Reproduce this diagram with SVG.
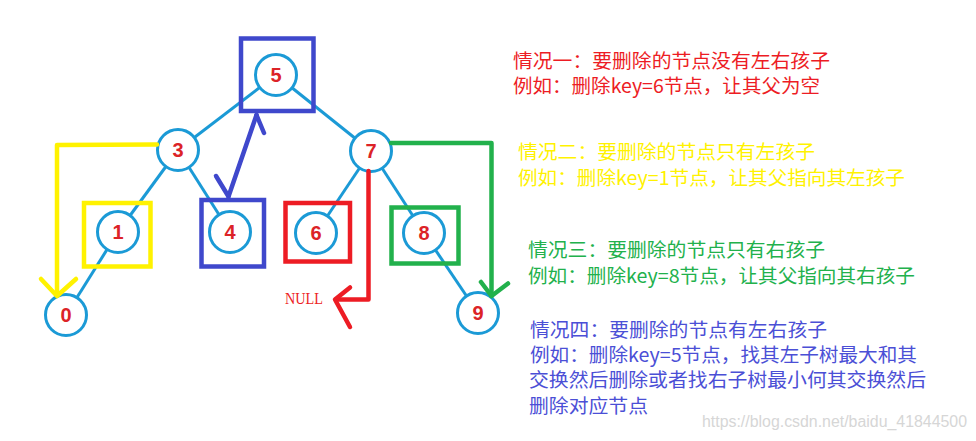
<svg xmlns="http://www.w3.org/2000/svg" width="976" height="441" viewBox="0 0 976 441">
<style>
.edge{stroke:#1b9ad6;stroke-width:3;fill:none}
.node circle{fill:#fff;stroke:#1b9ad6;stroke-width:3}
.node text{font-family:"Liberation Sans",Arial,sans-serif;font-weight:bold;font-size:20px;fill:#dc2327;text-anchor:middle}
.box{fill:none;stroke-width:4.5}
.arr{fill:none;stroke-width:4.5;stroke-linecap:round;stroke-linejoin:round}
.t{font-family:"Noto Sans CJK SC","Noto Sans",sans-serif;font-size:19px}
</style>
<rect width="976" height="441" fill="#fff"/>
<g id="connectors">
<line class="edge" x1="276" y1="75" x2="178" y2="150"/>
<line class="edge" x1="276" y1="75" x2="371" y2="151"/>
<line class="edge" x1="178" y1="150" x2="118" y2="232"/>
<line class="edge" x1="178" y1="150" x2="230" y2="232"/>
<line class="edge" x1="118" y1="232" x2="66" y2="315"/>
<line class="edge" x1="371" y1="151" x2="316" y2="233"/>
<line class="edge" x1="371" y1="151" x2="424" y2="233"/>
<line class="edge" x1="424" y1="233" x2="478" y2="313"/>
</g>
<g id="n5" class="node"><circle cx="276" cy="75" r="20.5"/><text x="276" y="82">5</text></g>
<g id="n3" class="node"><circle cx="178" cy="150" r="20.5"/><text x="178" y="157">3</text></g>
<g id="n7" class="node"><circle cx="371" cy="151" r="20.5"/><text x="371" y="158">7</text></g>
<g id="n1" class="node"><circle cx="118" cy="232" r="20.5"/><text x="118" y="239">1</text></g>
<g id="n4" class="node"><circle cx="230" cy="232" r="20.5"/><text x="230" y="239">4</text></g>
<g id="n6" class="node"><circle cx="316" cy="233" r="20.5"/><text x="316" y="240">6</text></g>
<g id="n8" class="node"><circle cx="424" cy="233" r="20.5"/><text x="424" y="240">8</text></g>
<g id="n0" class="node"><circle cx="66" cy="315" r="20.5"/><text x="66" y="322">0</text></g>
<g id="n9" class="node"><circle cx="478" cy="313" r="20.5"/><text x="478" y="320">9</text></g>
<g id="boxes">
<rect class="box" x="241" y="38.5" width="72.5" height="72.5" stroke="#3f48cc"/>
<rect class="box" x="84" y="203" width="66.5" height="63.5" stroke="#fff200"/>
<rect class="box" x="201.5" y="200" width="62.5" height="66.5" stroke="#3f48cc"/>
<rect class="box" x="285.5" y="203" width="64.5" height="58.5" stroke="#ed1c24"/>
<rect class="box" x="391.5" y="207.5" width="67" height="56" stroke="#22b14c"/>
</g>
<g id="arrows">
<polyline class="arr" stroke="#fff200" points="157,144.5 57,145 57,295"/>
<polyline class="arr" stroke="#fff200" points="41,279 57,296 76,279"/>
<line class="arr" stroke="#3f48cc" x1="256.5" y1="115" x2="228.5" y2="196.5"/>
<line class="arr" stroke="#3f48cc" x1="256.5" y1="115" x2="264" y2="133"/>
<line class="arr" stroke="#3f48cc" x1="216" y1="176" x2="228.5" y2="196.5"/>
<polyline class="arr" stroke="#ed1c24" points="368.5,171 368.5,299.5 336,299.5"/>
<polyline class="arr" stroke="#ed1c24" points="350,287.5 335,299.5 350,327"/>
<polyline class="arr" stroke="#22b14c" points="391,143 491.5,143 491.5,296"/>
<polyline class="arr" stroke="#22b14c" points="481,282 491.5,296 508,283.5"/>
<text x="285" y="304" font-family="'Liberation Serif',serif" font-size="17" fill="#ed1c24" textLength="38" lengthAdjust="spacingAndGlyphs">NULL</text>
</g>
<g id="notes">
<text class="t" fill="#ed1c24" x="513" y="68" textLength="317" lengthAdjust="spacingAndGlyphs">情况一：要删除的节点没有左右孩子</text>
<text class="t" fill="#ed1c24" x="513" y="93" textLength="307" lengthAdjust="spacingAndGlyphs">例如：删除key=6节点，让其父为空</text>
<text class="t" fill="#fff200" x="518" y="159" textLength="297" lengthAdjust="spacingAndGlyphs">情况二：要删除的节点只有左孩子</text>
<text class="t" fill="#fff200" x="518" y="185" textLength="387" lengthAdjust="spacingAndGlyphs">例如：删除key=1节点，让其父指向其左孩子</text>
<text class="t" fill="#22b14c" x="528" y="257" textLength="297" lengthAdjust="spacingAndGlyphs">情况三：要删除的节点只有右孩子</text>
<text class="t" fill="#22b14c" x="528" y="283" textLength="387" lengthAdjust="spacingAndGlyphs">例如：删除key=8节点，让其父指向其右孩子</text>
<text class="t" fill="#4b4fd6" x="530" y="337" textLength="297" lengthAdjust="spacingAndGlyphs">情况四：要删除的节点有左右孩子</text>
<text class="t" fill="#4b4fd6" x="530" y="362" textLength="387" lengthAdjust="spacingAndGlyphs">例如：删除key=5节点，找其左子树最大和其</text>
<text class="t" fill="#4b4fd6" x="529" y="387" textLength="397" lengthAdjust="spacingAndGlyphs">交换然后删除或者找右子树最小何其交换然后</text>
<text class="t" fill="#4b4fd6" x="529" y="413" textLength="119" lengthAdjust="spacingAndGlyphs">删除对应节点</text>
<text x="702" y="427" font-family="'Liberation Sans',Arial,sans-serif" font-size="16" fill="#d6d6d6" textLength="265" lengthAdjust="spacingAndGlyphs">https://blog.csdn.net/baidu_41844500</text>
</g>
</svg>
